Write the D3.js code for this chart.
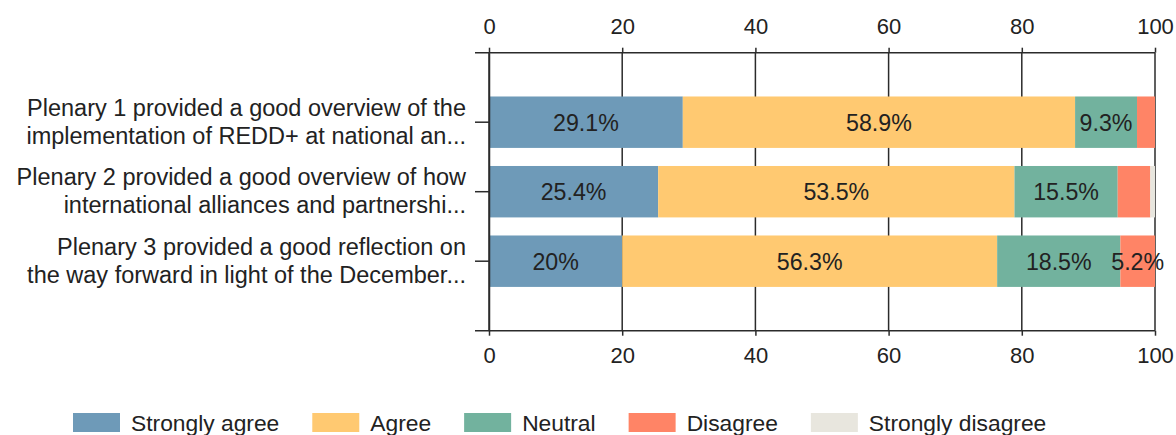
<!DOCTYPE html>
<html>
<head>
<meta charset="utf-8">
<script src="https://cdn.jsdelivr.net/npm/d3@7"></script>
<style>
body { margin: 0; background: #fff; }
svg text { font-family: "Liberation Sans", Arial, sans-serif; fill: #222; }
</style>
</head>
<body>
<svg id="chart" width="1176" height="435"></svg>
<script>
// question labels, already cut to two lines like the survey tool does
var questions = [
    ["Plenary 1 provided a good overview of the", "implementation of REDD+ at national an..."],
    ["Plenary 2 provided a good overview of how", "international alliances and partnershi..."],
    ["Plenary 3 provided a good reflection on", "the way forward in light of the December..."]
]

var seriesNames = ["Strongly agree", "Agree", "Neutral", "Disagree", "Strongly disagree"]

// percent per question
var stronglyAgree    = [29.1, 25.4, 20]
var agree            = [58.9, 53.5, 56.3]
var neutral          = [9.3, 15.5, 18.5]
var disagree         = [2.7, 4.9, 5.2]
var stronglyDisagree = [0, 0.7, 0]

var xTicks = [0, 20, 40, 60, 80, 100]

var colors = ["#6e9ab8", "#ffc971", "#72b29e", "#ff8466", "#e8e6de"]

var plotLeft = 489
var plotRight = 1155
var plotTop = 52.7
var plotBottom = 330.7
var tickFont = 22
var questionFont = 23.5
var barFont = 23.2
var legendFont = 22.8

// build table for d3.stack
var columns = [stronglyAgree, agree, neutral, disagree, stronglyDisagree]
var table = []
for(var i=0; i<questions.length; i++)
{
    var row = {index: i}
    for(var k=0; k<seriesNames.length; k++)
    {
        row[seriesNames[k]] = columns[k][i]
    }
    table.push(row)
}

var stacked = d3.stack().keys(seriesNames)(table)

var svg = d3.select("#chart")

var x = d3.scaleLinear()
            .domain([0, 100])
            .range([plotLeft, plotRight])

var y = d3.scaleBand()
            .domain(d3.range(questions.length))
            .range([plotTop, plotBottom])
            .paddingInner(0.26)
            .paddingOuter(0.63)

var color = d3.scaleOrdinal()
            .domain(seriesNames)
            .range(colors)

// grid lines behind the bars
svg.append("g")
    .selectAll("line")
    .data(xTicks)
    .enter()
        .append("line")
        .attr("x1", function(d){ return x(d) })
        .attr("x2", function(d){ return x(d) })
        .attr("y1", plotTop)
        .attr("y2", plotBottom)
        .attr("stroke", "#2b2b2b")
        .attr("stroke-width", 1.5)

// bars
var layers = svg.append("g")
    .selectAll("g")
    .data(stacked)
    .enter()
        .append("g")
        .attr("fill", function(d){ return color(d.key) })

layers.selectAll("rect")
    .data(function(d){ return d })
    .enter()
        .append("rect")
        .attr("x", function(d){ return x(d[0]) })
        .attr("width", function(d){ return x(d[1]) - x(d[0]) })
        .attr("y", function(d){ return y(d.data.index) })
        .attr("height", y.bandwidth())

// labels on the bars, only when the piece is big enough
var labels = []
stacked.forEach(function(layer){
    layer.forEach(function(d){
        var v = d[1] - d[0]
        if(v >= 5)
        {
            labels.push({value: d.data[layer.key], mid: (d[0] + d[1]) / 2, index: d.data.index})
        }
    })
})

svg.append("g")
    .selectAll("text")
    .data(labels)
    .enter()
        .append("text")
        .attr("x", function(d){ return x(d.mid) })
        .attr("y", function(d){ return y(d.index) + y.bandwidth() / 2 })
        .attr("dy", "0.36em")
        .attr("text-anchor", "middle")
        .style("font-size", barFont + "px")
        .text(function(d){ return d.value + "%" })

// top and bottom axes
var topAxis = svg.append("g")
    .attr("transform", "translate(0," + plotTop + ")")
    .call(d3.axisTop(x).tickValues(xTicks).tickSize(5).tickPadding(13.5))

var bottomAxis = svg.append("g")
    .attr("transform", "translate(0," + plotBottom + ")")
    .call(d3.axisBottom(x).tickValues(xTicks).tickSize(5).tickPadding(11.5))

;[topAxis, bottomAxis].forEach(function(a){
    a.select(".domain").remove()
    a.selectAll(".tick line").attr("stroke", "#2b2b2b").attr("stroke-width", 1.5)
    a.selectAll(".tick text")
        .attr("fill", "#222")
        .style("font-size", tickFont + "px")
        .style("font-family", "\"Liberation Sans\", Arial, sans-serif")
})

// axis lines, reaching out to the left like the y ticks
svg.append("line")
    .attr("x1", plotLeft - 14).attr("x2", plotRight)
    .attr("y1", plotTop).attr("y2", plotTop)
    .attr("stroke", "#2b2b2b").attr("stroke-width", 1.5)

svg.append("line")
    .attr("x1", plotLeft - 14).attr("x2", plotRight)
    .attr("y1", plotBottom).attr("y2", plotBottom)
    .attr("stroke", "#2b2b2b").attr("stroke-width", 1.5)

// y axis
var leftAxis = svg.append("g")
    .attr("transform", "translate(" + plotLeft + ",0)")
    .call(d3.axisLeft(y).tickSize(14).tickSizeOuter(0).tickFormat(""))

leftAxis.select(".domain").attr("stroke", "#2b2b2b").attr("stroke-width", 1.5)
leftAxis.selectAll(".tick line").attr("stroke", "#2b2b2b").attr("stroke-width", 1.5)

// question text, two lines, right aligned
var qText = svg.append("g")
    .selectAll("text")
    .data(questions)
    .enter()
        .append("text")
        .attr("text-anchor", "end")
        .style("font-size", questionFont + "px")

qText.each(function(lines, i){
    var cy = y(i) + y.bandwidth() / 2
    var t = d3.select(this)
    t.append("tspan").attr("x", 466).attr("y", cy - 6.5).text(lines[0])
    t.append("tspan").attr("x", 466).attr("y", cy + 21.5).text(lines[1])
})

// legend
var legend = svg.append("g")
var lx = 73
seriesNames.forEach(function(name, i){
    legend.append("rect")
        .attr("x", lx)
        .attr("y", 413)
        .attr("width", 47)
        .attr("height", 19)
        .attr("fill", colors[i])
    var t = legend.append("text")
        .attr("x", lx + 58)
        .attr("y", 422.5)
        .attr("dy", "0.36em")
        .style("font-size", legendFont + "px")
        .text(name)
    lx = lx + 58 + t.node().getComputedTextLength() + 33
})
</script>
</body>
</html>
